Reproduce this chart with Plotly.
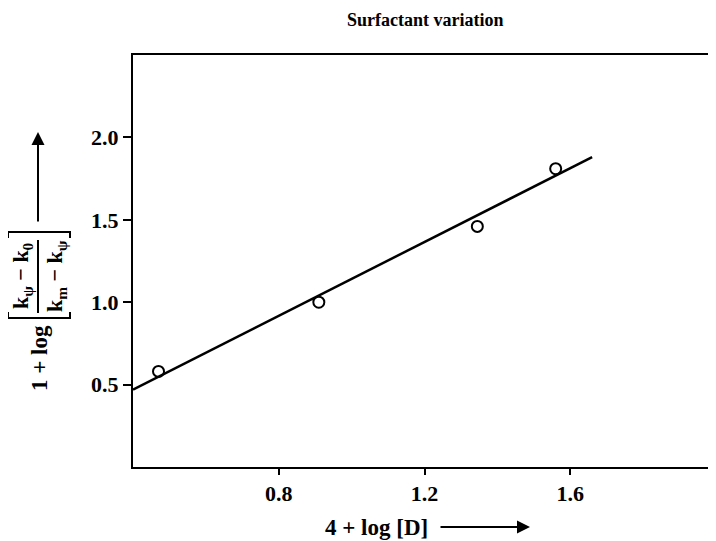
import plotly.graph_objects as go

# Data
x_points = [0.47, 0.91, 1.345, 1.56]
y_points = [0.58, 1.00, 1.46, 1.81]
fit_x = [0.40, 1.66]
fit_y = [0.47, 1.88]
x_ticks = [0.8, 1.2, 1.6]
x_ticklabels = ["0.8", "1.2", "1.6"]
y_ticks = [0.5, 1.0, 1.5, 2.0]
y_ticklabels = ["0.5", "1.0", "1.5", "2.0"]

# The page body has an 8px default margin; figure is sized to compensate.
OFF = 8
W, H = 716 - OFF, 541 - OFF
ML, MR, MT, MB = 133 - OFF, 0, 55 - OFF, 74
PW, PH = W - ML - MR, H - MT - MB

def px(x):
    return (x - OFF - ML) / PW

def py(y):
    return (H - MB - (y - OFF)) / PH

FONT = "Liberation Serif, Times New Roman, serif"

fig = go.Figure()
fig.add_trace(go.Scatter(x=fit_x, y=fit_y, mode="lines",
                         line=dict(color="black", width=2.5),
                         showlegend=False, hoverinfo="skip"))
fig.add_trace(go.Scatter(x=x_points, y=y_points, mode="markers",
                         marker=dict(symbol="circle-open", size=11, color="black",
                                     line=dict(width=2, color="black")),
                         showlegend=False))

axis_common = dict(showgrid=False, zeroline=False, showline=True, linecolor="black",
                   linewidth=2, ticks="outside", tickcolor="black", tickwidth=2,
                   tickfont=dict(family=FONT, size=22, color="black", weight="bold"))

fig.update_layout(
    width=W, height=H,
    margin=dict(l=ML, r=MR, t=MT, b=MB, pad=0),
    paper_bgcolor="white", plot_bgcolor="white",
    xaxis=dict(range=[0.4, 2.0], tickvals=x_ticks, ticktext=x_ticklabels,
               ticklen=6, mirror=True, **axis_common),
    yaxis=dict(range=[0, 2.5], tickvals=y_ticks, ticktext=y_ticklabels,
               ticklen=8, mirror=False, **axis_common),
    showlegend=False,
)

annotations = []
# Title
annotations.append(dict(x=px(425), y=py(20), xref="paper", yref="paper",
                        text="Surfactant variation", showarrow=False,
                        xanchor="center", yanchor="middle",
                        font=dict(family=FONT, size=18, color="black", weight="bold")))
# X axis label
annotations.append(dict(x=px(376), y=py(527), xref="paper", yref="paper",
                        text="4 + log [D]", showarrow=False,
                        xanchor="center", yanchor="middle",
                        font=dict(family=FONT, size=23, color="black", weight="bold")))
# X arrow
annotations.append(dict(x=px(530), y=py(527), xref="paper", yref="paper",
                        text="", showarrow=True, ax=-91, ay=0,
                        arrowhead=2, arrowsize=1.3, arrowwidth=2, arrowcolor="black",
                        standoff=0))
# Y label pieces (rotated)
annotations.append(dict(x=px(39), y=py(358), xref="paper", yref="paper",
                        text="1 + log", showarrow=False, textangle=-90,
                        xanchor="center", yanchor="middle",
                        font=dict(family=FONT, size=23, color="black", weight="bold")))
annotations.append(dict(x=px(22), y=py(276), xref="paper", yref="paper",
                        text="k<sub>ψ</sub> − k<sub>0</sub>", showarrow=False, textangle=-90,
                        xanchor="center", yanchor="middle",
                        font=dict(family=FONT, size=22, color="black", weight="bold")))
annotations.append(dict(x=px(56), y=py(276), xref="paper", yref="paper",
                        text="k<sub>m</sub> − k<sub>ψ</sub>", showarrow=False, textangle=-90,
                        xanchor="center", yanchor="middle",
                        font=dict(family=FONT, size=22, color="black", weight="bold")))
# Y arrow
annotations.append(dict(x=px(38), y=py(132), xref="paper", yref="paper",
                        text="", showarrow=True, ax=0, ay=91,
                        arrowhead=2, arrowsize=1.3, arrowwidth=2, arrowcolor="black",
                        standoff=0))
fig.update_layout(annotations=annotations)

shapes = []
# fraction bar
shapes.append(dict(type="line", xref="paper", yref="paper",
                   x0=px(38), x1=px(38), y0=py(240), y1=py(313),
                   line=dict(color="black", width=2)))
# brackets
def bracket(yb, sign):
    return dict(type="path", xref="paper", yref="paper",
                path=f"M {px(8)},{py(yb + sign*6)} L {px(8)},{py(yb)} L {px(70)},{py(yb)} L {px(70)},{py(yb + sign*6)}",
                line=dict(color="black", width=2))
shapes.append(bracket(232, 1))
shapes.append(bracket(318, -1))
fig.update_layout(shapes=shapes)

fig.write_html("out.html")
